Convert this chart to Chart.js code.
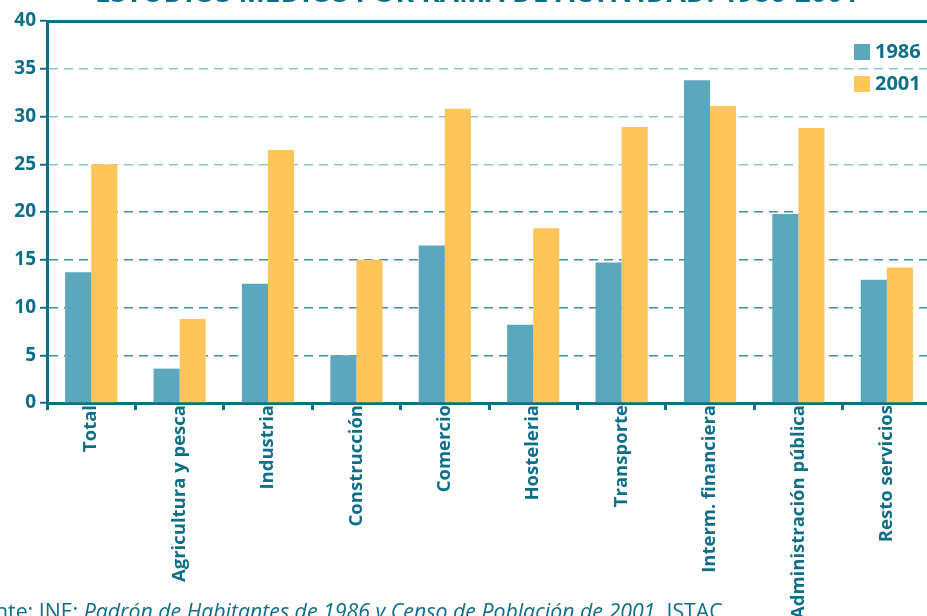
<!DOCTYPE html>
<html>
<head>
<meta charset="utf-8">
<script src="https://cdn.jsdelivr.net/npm/chart.js@4.4.1/dist/chart.umd.min.js"></script>
<style>
  html, body { margin: 0; padding: 0; background: #fff; overflow: hidden; }
  #wrap { position: relative; width: 927px; height: 616px; overflow: hidden; }
  #c { position: absolute; left: 0; top: 0; }
  .txt { position: absolute; font-family: "Open Sans", sans-serif; color: #0e6e87; white-space: nowrap; }
  #title { top: -28px; left: 95px; font-size: 28px; font-weight: 700; }
  #footer { top: 596px; left: -41px; font-size: 21.3px; }
  .leg { position: absolute; font-family: "Open Sans", sans-serif; font-weight: 700; font-size: 20px; color: #0e6e87; }
  .sw { position: absolute; width: 16px; height: 16px; }
</style>
</head>
<body>
<div id="wrap">
  <canvas id="c" width="931" height="616"></canvas>
  <div class="txt" id="title">ESTUDIOS MEDIOS POR RAMA DE ACTIVIDAD. 1986-2001</div>
  <div class="txt" id="footer">Fuente: INE: <i>Padrón de Habitantes de 1986 y Censo de Población de 2001</i>. ISTAC</div>
  <div class="sw" style="left:854px;top:44px;background:#5ba7bc"></div>
  <div class="leg" style="left:875px;top:37px">1986</div>
  <div class="sw" style="left:854px;top:76px;background:#fec55a"></div>
  <div class="leg" style="left:875px;top:69px">2001</div>
</div>
<script>
const categories = ["Total", "Agricultura y pesca", "Industria", "Construcción", "Comercio", "Hosteleria", "Transporte", "Interm. financiera", "Administración pública", "Resto servicios"];
const values1986 = [13.7, 3.6, 12.5, 5.0, 16.5, 8.2, 14.7, 33.8, 19.8, 12.9];
const values2001 = [25.0, 8.8, 26.5, 15.0, 30.8, 18.3, 28.9, 31.1, 28.8, 14.2];
const yTicks = [0, 5, 10, 15, 20, 25, 30, 35, 40];

const DARK = "#0e6e87";

new Chart(document.getElementById("c"), {
  type: "bar",
  data: {
    labels: categories,
    datasets: [
      { label: "1986", data: values1986, backgroundColor: "#5ba7bc", barPercentage: 1.0, categoryPercentage: 0.59, xAxisID: "x" },
      { label: "2001", data: values2001, backgroundColor: "#fec55a", barPercentage: 1.0, categoryPercentage: 0.59, xAxisID: "x" }
    ]
  },
  options: {
    responsive: false,
    animation: false,
    layout: { padding: { top: 21, right: 0, left: 0, bottom: 0 } },
    plugins: { legend: { display: false }, tooltip: { enabled: false }, title: { display: false } },
    scales: {
      x: {
        position: "bottom",
        offset: true,
        grid: { display: true, drawOnChartArea: false, drawTicks: true, tickLength: 7, tickColor: DARK, tickWidth: 3, offset: true },
        border: { display: true, color: DARK, width: 3 },
        ticks: {
          minRotation: 90, maxRotation: 90, autoSkip: false, padding: -5,
          color: DARK,
          font: { family: "Open Sans", size: 18.5, weight: "bold" }
        },
        afterFit: (s) => { s.height = 616 - 403; }
      },
      x2: {
        position: "top",
        type: "category",
        labels: categories,
        grid: { display: false, drawTicks: false },
        border: { display: true, color: DARK, width: 3 },
        ticks: { display: false },
        afterFit: (s) => { s.height = 0; }
      },
      y: {
        min: 0, max: 40,
        afterBuildTicks: (s) => { s.ticks = yTicks.map(v => ({ value: v })); },
        grid: {
          drawTicks: true, tickLength: 7, tickWidth: 2, tickColor: DARK,
          lineWidth: 1.5,
          color: (ctx) => {
            const v = ctx.tick ? ctx.tick.value : null;
            if (v === 0 || v === 40) return "rgba(0,0,0,0)";
            if (v >= 25) return "#8cc4d1";
            return "#3f8ea4";
          }
        },
        border: { display: true, color: DARK, width: 3, dash: [9, 6] },
        ticks: {
          color: DARK, padding: 4,
          font: { family: "Open Sans", size: 19, weight: "bold" }
        },
        afterFit: (s) => { s.width = 47; }
      }
    }
  }
});
</script>
</body>
</html>
